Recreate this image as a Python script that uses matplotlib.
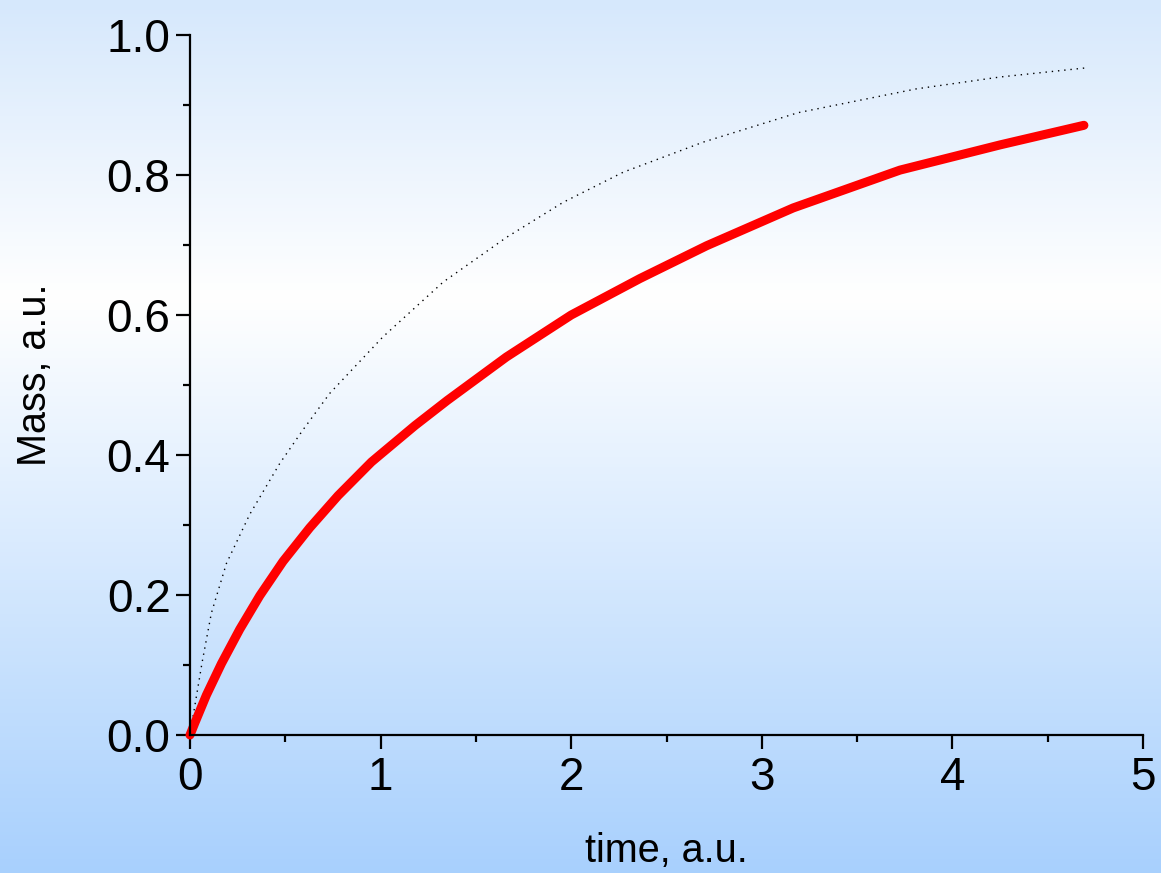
import numpy as np
import matplotlib
matplotlib.use("Agg")
import matplotlib.pyplot as plt
from matplotlib.colors import LinearSegmentedColormap
from matplotlib.ticker import MultipleLocator, FormatStrFormatter

plt.rcParams['font.family'] = ['Liberation Sans', 'DejaVu Sans']

# --- valores ---
t_red = [0, 0.025, 0.086, 0.165, 0.261, 0.366, 0.488, 0.628, 0.777, 0.952,
         1.0, 1.18, 1.35, 1.66, 2.0, 2.36, 2.711, 3.165, 3.725, 4.25, 4.69]
mass_red = [0, 0.017, 0.057, 0.102, 0.151, 0.199, 0.248, 0.296, 0.342, 0.390,
            0.401, 0.442, 0.478, 0.540, 0.600, 0.652, 0.699, 0.753, 0.807,
            0.843, 0.871]

t_dot = [0, 0.02, 0.063, 0.112, 0.191, 0.313, 0.471, 0.593, 0.733, 1.013,
         1.328, 1.661, 1.958, 2.273, 2.693, 3.19, 3.81, 4.25, 4.7]
mass_dot = [0, 0.033, 0.103, 0.174, 0.245, 0.315, 0.388, 0.436, 0.488, 0.569,
            0.647, 0.711, 0.761, 0.804, 0.847, 0.889, 0.923, 0.940, 0.953]

W, H = 1161, 873
fig = plt.figure(figsize=(W / 100, H / 100), dpi=100)

# fondo degradado
bg = fig.add_axes([0, 0, 1, 1], zorder=-10)
cmap = LinearSegmentedColormap.from_list(
    "bg", [(0.0, "#d6e8fc"), (0.34, "#ffffff"), (1.0, "#a8d0fd")])
bg.imshow(np.linspace(0, 1, 256).reshape(-1, 1), aspect="auto", cmap=cmap,
          extent=[0, 1, 0, 1])
bg.axis("off")

ax = fig.add_axes([190 / W, 1 - 735 / H, 953 / W, 700 / H])
ax.patch.set_alpha(0)

ax.plot(t_dot, mass_dot, color="black", lw=1.0, linestyle=(0, (1, 3.5)),
        clip_on=False)
ax.plot(t_red, mass_red, color="#ff0000", lw=6.5, solid_capstyle="round",
        solid_joinstyle="round", clip_on=False)

ax.set_xlim(0, 5)
ax.set_ylim(0, 1.0)
ax.xaxis.set_major_locator(MultipleLocator(1))
ax.xaxis.set_minor_locator(MultipleLocator(0.5))
ax.yaxis.set_major_locator(MultipleLocator(0.2))
ax.yaxis.set_minor_locator(MultipleLocator(0.1))
ax.yaxis.set_major_formatter(FormatStrFormatter("%.1f"))

for s in ["top", "right"]:
    ax.spines[s].set_visible(False)
for s in ["left", "bottom"]:
    ax.spines[s].set_linewidth(1.6)

ax.tick_params(which="major", direction="out", length=10, width=1.6,
               labelsize=33, pad=5)
ax.tick_params(which="minor", direction="out", length=5, width=1.6)
ax.tick_params(axis="y", which="major", pad=4)

fig.text(666 / W, 1 - 862 / H, "time, a.u.", ha="center", va="baseline",
         fontsize=28.5)
fig.text(35 / W, 1 - 375 / H, "Mass, a.u.", ha="center", va="center",
         rotation=90, fontsize=28.5)

fig.savefig("out.png", dpi=100)
